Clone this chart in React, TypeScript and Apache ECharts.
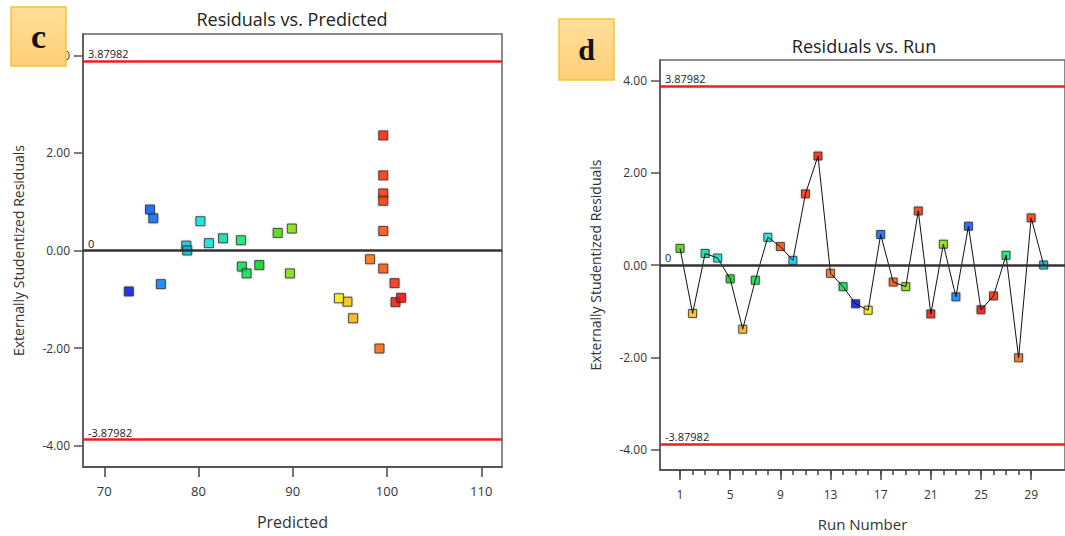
import React, { useEffect, useRef } from "react";
import * as echarts from "echarts";

const runNumbers = [1, 2, 3, 4, 5, 6, 7, 8, 9, 10, 11, 12, 13, 14, 15, 16, 17, 18, 19, 20, 21, 22, 23, 24, 25, 26, 27, 28, 29, 30];
const residuals = [0.36, -1.05, 0.25, 0.15, -0.30, -1.39, -0.33, 0.60, 0.40, 0.10, 1.54, 2.36, -0.18, -0.47, -0.84, -0.98, 0.66, -0.37, -0.47, 1.17, -1.06, 0.45, -0.69, 0.84, -0.97, -0.67, 0.21, -2.01, 1.02, 0.0];
const predicted = [88.4, 95.8, 82.6, 81.1, 86.45, 96.4, 84.6, 80.2, 99.6, 78.7, 99.6, 99.6, 98.2, 85.1, 72.6, 94.9, 75.2, 99.6, 89.7, 99.6, 100.9, 89.9, 76.0, 74.85, 101.5, 100.8, 84.5, 99.2, 99.6, 78.8];
const pointColors = ["#4cd800", "#ffc400", "#00dfa0", "#00e5d8", "#00d21a", "#ffb400", "#00e04a", "#00e6e0", "#ff4a00", "#00ccf0", "#ff2a00", "#ff1a00", "#ff6a00", "#00e050", "#0010f0", "#ffee00", "#0068ff", "#ff5200", "#7ee000", "#ff3000", "#ff1000", "#80e600", "#0080ff", "#0058ff", "#ff0800", "#ff2400", "#00ee66", "#ff6600", "#ff3000", "#00bcd4"];

const predTicks = [70, 80, 90, 100, 110];
const runMajorTicks = [1, 5, 9, 13, 17, 21, 25, 29];
const runMinorTicks = [1, 2, 3, 4, 5, 6, 7, 8, 9, 10, 11, 12, 13, 14, 15, 16, 17, 18, 19, 20, 21, 22, 23, 24, 25, 26, 27, 28, 29];
const residualTicks = [-4, -2, 0, 2, 4];
const limitValue = 3.87982;

const FONT = "'Open Sans', 'Noto Sans', sans-serif";

function makeYAxis(gridIndex: number) {
  return {
    gridIndex,
    type: "value",
    min: -4.44,
    max: 4.44,
    axisLine: { show: true, onZero: false, lineStyle: { color: "#555", width: 1.5 } },
    axisTick: { show: true, length: 9, customValues: residualTicks, lineStyle: { color: "#555", width: 1.5 } },
    axisLabel: {
      customValues: residualTicks,
      margin: 13,
      fontSize: 12,
      color: "#333",
      fontFamily: FONT,
      formatter: (v: number) => v.toFixed(2),
    },
    splitLine: { show: false },
    name: "Externally Studentized Residuals",
    nameLocation: "middle",
    nameRotate: 90,
    nameGap: 58,
    nameTextStyle: { fontSize: 14, color: "#333", fontFamily: FONT },
  };
}

function markLines() {
  const lbl = { show: true, position: "insideStartTop", distance: [5, 2], fontSize: 11, color: "#222", fontFamily: FONT };
  return {
    silent: true,
    symbol: ["none", "none"],
    animation: false,
    data: [
      { yAxis: limitValue, lineStyle: { color: "#f21c1c", width: 2.5, type: "solid" }, label: { ...lbl, formatter: String(limitValue) } },
      { yAxis: -limitValue, lineStyle: { color: "#f21c1c", width: 2.5, type: "solid" }, label: { ...lbl, formatter: String(-limitValue) } },
      { yAxis: 0, lineStyle: { color: "#333", width: 2.5, type: "solid" }, label: { ...lbl, formatter: "0" } },
    ],
  };
}

function labelBox(x: number, y: number, w: number, h: number, letter: string, size: number) {
  return {
    type: "group",
    z: 100,
    zlevel: 0,
    children: [
      {
        type: "rect",
        z: 100,
        shape: { x, y, width: w, height: h },
        style: {
          fill: new echarts.graphic.LinearGradient(0, 0, 0, 1, [
            { offset: 0, color: "#ffdf9a" },
            { offset: 1, color: "#ffcf78" },
          ]),
          stroke: "#f3c33a",
          lineWidth: 1.5,
        },
      },
      {
        type: "text",
        z: 101,
        x: x + w / 2,
        y: y + h / 2,
        style: {
          text: letter,
          fill: "#111",
          font: `bold ${size}px 'Liberation Serif', 'Times New Roman', serif`,
          textAlign: "center",
          textVerticalAlign: "middle",
        },
      },
    ],
  };
}

export default function App() {
  const ref = useRef<HTMLDivElement>(null);

  useEffect(() => {
    if (!ref.current) return;
    const chart = echarts.init(ref.current, null, { renderer: "svg" });

    const leftData = predicted.map((p, i) => ({ value: [p, residuals[i]], itemStyle: { color: pointColors[i] } }));
    const rightData = runNumbers.map((r, i) => ({ value: [r, residuals[i]], itemStyle: { color: pointColors[i] } }));
    const lineData = runNumbers.map((r, i) => [r, residuals[i]]);

    const markerStyle = {
      borderColor: "#2a2a2a",
      borderWidth: 1,
      shadowBlur: 2,
      shadowColor: "rgba(0,0,0,0.3)",
    };

    const option: any = {
      animation: false,
      backgroundColor: "#ffffff",
      grid: [
        { left: 83, top: 34, width: 419, height: 433, show: true, borderColor: "#666", borderWidth: 1.5, backgroundColor: "transparent" },
        { left: 660, top: 60, width: 409, height: 411, show: true, borderColor: "#666", borderWidth: 1.5, backgroundColor: "transparent" },
      ],
      xAxis: [
        {
          gridIndex: 0,
          type: "value",
          min: 67.74,
          max: 112.2,
          axisLine: { show: true, onZero: false, lineStyle: { color: "#444", width: 1.5 } },
          axisTick: { show: true, length: 10, customValues: predTicks, lineStyle: { color: "#444", width: 1.5 } },
          axisLabel: { customValues: predTicks, margin: 17, fontSize: 13, color: "#333", fontFamily: FONT },
          splitLine: { show: false },
          name: "Predicted",
          nameLocation: "middle",
          nameGap: 47,
          nameTextStyle: { fontSize: 16, color: "#333", fontFamily: FONT },
        },
        {
          gridIndex: 1,
          type: "value",
          position: "bottom",
          min: -0.6,
          max: 31.7,
          axisLine: { show: true, onZero: false, lineStyle: { color: "#444", width: 1.5 } },
          axisTick: { show: true, length: 10, customValues: runMajorTicks, lineStyle: { color: "#444", width: 1.5 } },
          axisLabel: { customValues: runMajorTicks, margin: 18, fontSize: 12, color: "#333", fontFamily: FONT },
          splitLine: { show: false },
          name: "Run Number",
          nameLocation: "middle",
          nameGap: 46,
          nameTextStyle: { fontSize: 15, color: "#333", fontFamily: FONT },
        },
        {
          gridIndex: 1,
          type: "value",
          position: "bottom",
          offset: 0,
          min: -0.6,
          max: 31.7,
          axisLine: { show: false, onZero: false },
          axisTick: { show: true, length: 5, customValues: runMinorTicks, lineStyle: { color: "#444", width: 1.5 } },
          axisLabel: { show: false },
          splitLine: { show: false },
        },
      ],
      yAxis: [makeYAxis(0), makeYAxis(1)],
      series: [
        {
          type: "scatter",
          xAxisIndex: 0,
          yAxisIndex: 0,
          symbol: "rect",
          symbolSize: 9,
          itemStyle: markerStyle,
          data: leftData,
          markLine: markLines(),
          z: 3,
        },
        {
          type: "scatter",
          xAxisIndex: 1,
          yAxisIndex: 1,
          symbol: "rect",
          symbolSize: 8,
          itemStyle: markerStyle,
          data: rightData,
          markLine: markLines(),
          z: 2,
        },
        {
          type: "line",
          xAxisIndex: 1,
          yAxisIndex: 1,
          showSymbol: false,
          symbol: "none",
          lineStyle: { color: "#111", width: 1 },
          data: lineData,
          z: 4,
        },
      ],
      graphic: [
        {
          type: "text",
          x: 292,
          y: 19,
          style: { text: "Residuals vs. Predicted", fill: "#222", font: `18px ${FONT}`, textAlign: "center", textVerticalAlign: "middle" },
        },
        {
          type: "text",
          x: 864,
          y: 46,
          style: { text: "Residuals vs. Run", fill: "#222", font: `18px ${FONT}`, textAlign: "center", textVerticalAlign: "middle" },
        },
        labelBox(11, 7, 55, 59, "c", 34),
        labelBox(559, 19, 55, 61, "d", 30),
      ],
    };

    chart.setOption(option);
    return () => chart.dispose();
  }, []);

  return <div ref={ref} style={{ position: "absolute", left: 0, top: 0, width: 1065, height: 536 }} />;
}
